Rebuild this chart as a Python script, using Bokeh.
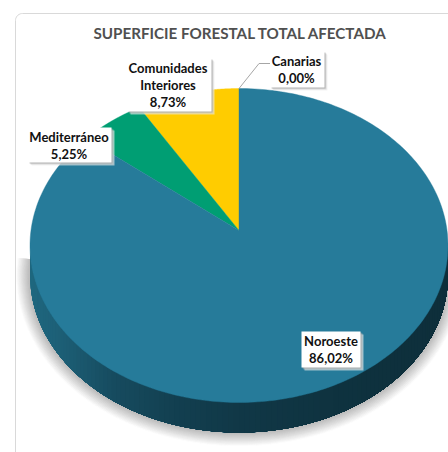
import numpy as np
from bokeh.embed import file_html
from bokeh.resources import INLINE
from bokeh.plotting import figure
from bokeh.models import Range1d
from bokeh.core.properties import value

title_text = "SUPERFICIE FORESTAL TOTAL AFECTADA"
regions = ["Canarias", "Comunidades Interiores", "Mediterráneo", "Noroeste"]
shares = [0.00, 8.73, 5.25, 86.02]
share_labels = ["0,00%", "8,73%", "5,25%", "86,02%"]
slice_colors = ["#E0E0E0", "#FFCC00", "#009E73", "#267B9A"]

W, H = 448, 452
p = figure(width=W, height=H, output_backend="svg", toolbar_location=None,
           x_range=Range1d(0, W), y_range=Range1d(H, 0),
           min_border=0, outline_line_color=None, background_fill_color="white",
           border_fill_color="white")
p.axis.visible = False
p.grid.visible = False

# pie projection
CX, CY, RX, RY, AX, AY, DEPTH, K = 238.5, 245.0, 209.0, 157.0, 238.5, 230.0, 30.0, 0.89


def rim(t, dy=0.0):
    return CX + RX * np.sin(t), CY - RY * np.cos(t) + dy


def project(a):
    return np.arctan2(np.sin(a) * K, np.cos(a)) % (2 * np.pi)


# card border
arc = np.linspace(np.pi, 1.5 * np.pi, 10)
bx = np.r_[15, 22 + 7 * np.cos(arc), 448]
by = np.r_[452, 20 + 7 * np.sin(arc), 13]
p.line(bx, by, line_color="#D9D9D9", line_width=1)

# soft shadow: small squares along rings below the wall, palest outermost first
t_low = np.linspace(np.pi * 0.47, np.pi * 1.53, 420)
cell_l, cell_r, cell_t, cell_b, cell_c = [], [], [], [], []
for g in np.arange(12, -1, -1):
    gx = CX + (RX + g) * np.sin(t_low)
    gy = CY + DEPTH - (RY + g) * np.cos(t_low)
    keep = gx < W - 1
    shade = int(np.interp(g, [0, 4, 12], [0xBE, 0xD2, 0xFC]))
    cell_l.extend(gx[keep] - 1.5)
    cell_r.extend(gx[keep] + 1.5)
    cell_t.extend(gy[keep] - 1.5)
    cell_b.extend(gy[keep] + 1.5)
    cell_c.extend(["#%02x%02x%02x" % (shade, shade, shade)] * int(keep.sum()))
p.quad(left=cell_l, right=cell_r, top=cell_t, bottom=cell_b, fill_color=cell_c, line_color=None)

# side wall: strips painted left to right, each running on under the next
stops_x = [29, 60, 110, 170, 238, 330, 448]
stops_c = np.array([[0x20, 0x68, 0x80], [0x1D, 0x5F, 0x76], [0x17, 0x4C, 0x60],
                    [0x13, 0x40, 0x51], [0x11, 0x38, 0x47], [0x0F, 0x33, 0x40], [0x0E, 0x2F, 0x3B]])
edges = np.linspace(3 * np.pi / 2, np.pi / 2, 121)
xs, ys, cs = [], [], []
for a, b in zip(edges[:-1], edges[1:]):
    ta = np.linspace(a, np.pi / 2, 40)
    x, y = rim(ta)
    x2, y2 = rim(ta[::-1], DEPTH)
    xs.append(np.r_[x, x2])
    ys.append(np.r_[y, y2])
    mx = rim(a)[0]
    c = [int(np.interp(mx, stops_x, stops_c[:, i])) for i in range(3)]
    cs.append("#%02x%02x%02x" % tuple(c))
p.patches(xs, ys, fill_color=cs, line_color=None)

# top face: slices from the shares, going anticlockwise from 12 o'clock
cum = np.cumsum(shares) / 100 * 2 * np.pi
start = 0.0
for share, end, col in zip(shares, cum, slice_colors):
    if share > 0:
        t0 = project(-start) if start > 0 else 2 * np.pi
        t1 = project(-end) if end < 2 * np.pi - 1e-9 else 0.0
        tt = np.linspace(t0, t1, 300)
        x, y = rim(tt)
        p.patch(np.r_[AX, x], np.r_[AY, y], fill_color=col, line_color=col, line_width=0.4)
    start = end

# leader line for Canarias
lx, ly = rim(0.0)
p.line([lx, lx + 20, lx + 31], [ly, ly - 25, ly - 25], line_color="#A6A6A6", line_width=1)

# label boxes
boxes = {
    "Canarias": (270, 324, 51, 87, -1, ["Canarias"]),
    "Comunidades Interiores": (127, 211, 58, 111, -1.5, ["Comunidades", "Interiores"]),
    "Mediterráneo": (28, 111, 127, 162, -1, ["Mediterráneo"]),
    "Noroeste": (301, 360, 331, 367, 0, ["Noroeste"]),
}
for name, lab in zip(regions, share_labels):
    l, r, t, b, nudge, lines = boxes[name]
    for off, shade in [(3, "#ECECEC"), (2, "#C8C8C8"), (1, "#9A9A9A")]:
        p.quad(left=l + off, right=r + off, top=t + off, bottom=b + off,
               fill_color=shade, fill_alpha=0.6, line_color=None)
    p.quad(left=l, right=r, top=t, bottom=b, fill_color="white", line_color=None)
    rows = lines + [lab]
    n = len(rows)
    ymid = (t + b) / 2
    p.text(x=[(l + r) / 2 + nudge] * n, y=[ymid + (i - (n - 1) / 2) * 17 for i in range(n)], text=rows,
           text_align="center", text_baseline="middle", text_font=value("Lato"),
           text_font_style="bold", text_font_size="13px", text_color="#111111")

p.text(x=[240], y=[32], text=[title_text], text_align="center", text_baseline="middle",
       text_font=value("Lato"), text_font_style="bold", text_font_size="15.2px",
       text_color="#505050")

open("out.html", "w").write(file_html(p, INLINE))
